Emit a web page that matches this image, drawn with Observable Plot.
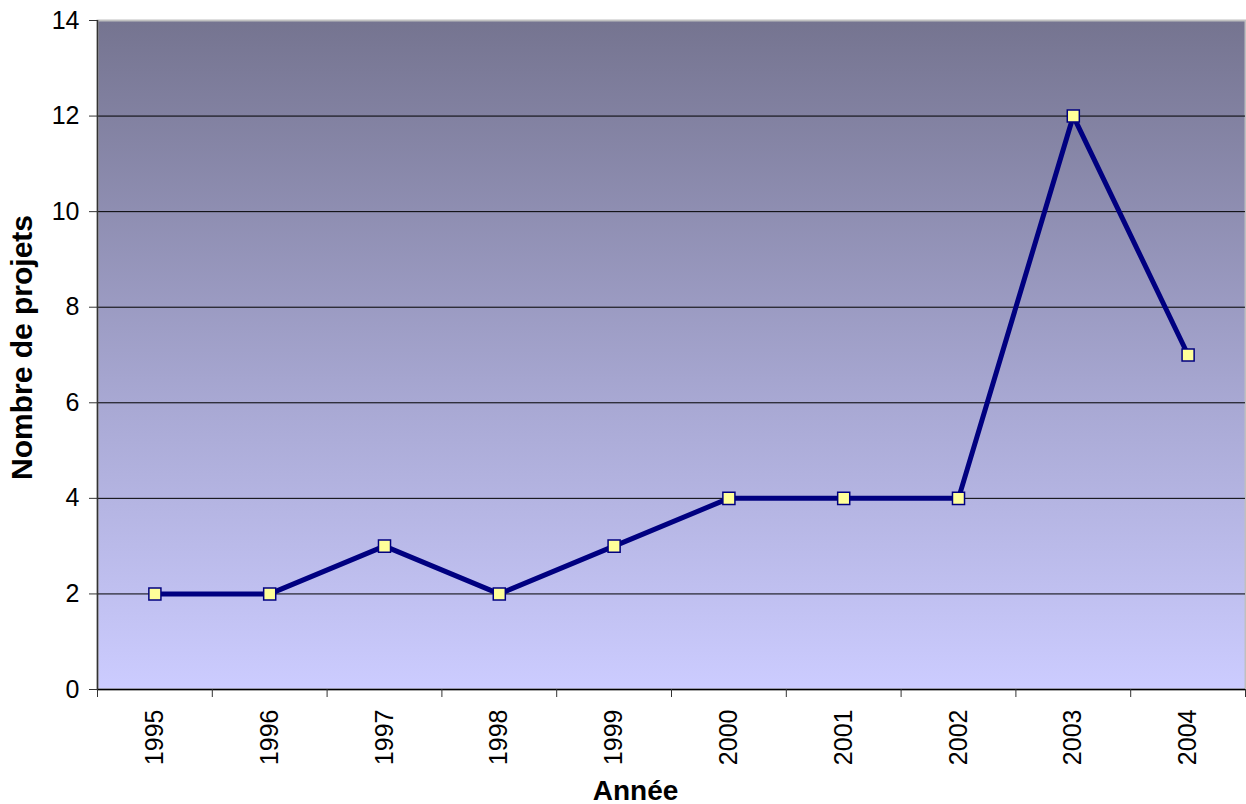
<!DOCTYPE html>
<html>
<head>
<meta charset="utf-8">
<script src="https://cdn.jsdelivr.net/npm/d3@7"></script>
<script src="https://cdn.jsdelivr.net/npm/@observablehq/plot@0.6"></script>
<style>
  html, body { margin: 0; padding: 0; background: #fff; }
  #chart svg { display: block; }
  #chart svg g[aria-label="y-axis tick label"] text { font-size: 25px; }
  #chart svg g[aria-label="x-axis tick label"] text { font-size: 25px; }
  #chart svg g.axis-title-x text { font-size: 28px; font-weight: bold; }
  #chart svg g.axis-title-y text { font-size: 30px; font-weight: bold; }
</style>
</head>
<body>
<div id="chart"></div>
<script>
const years = [1995, 1996, 1997, 1998, 1999, 2000, 2001, 2002, 2003, 2004];
const projets = [2, 2, 3, 2, 3, 4, 4, 4, 12, 7];
const yTicks = [0, 2, 4, 6, 8, 10, 12, 14];
const gridValues = [2, 4, 6, 8, 10, 12];
const boundaries = [1994.5, 1995.5, 1996.5, 1997.5, 1998.5, 1999.5, 2000.5, 2001.5, 2002.5, 2003.5, 2004.5];
const yLabel = "Nombre de projets";
const xLabel = "Année";

const data = years.map((y, i) => ({annee: y, n: projets[i]}));

const font = "'Liberation Sans', Arial, sans-serif";

const plot = Plot.plot({
  width: 1246,
  height: 804,
  marginLeft: 97,
  marginRight: 1,
  marginTop: 20,
  marginBottom: 115,
  style: {fontFamily: font, fontSize: "25px", color: "#000", background: "#fff", overflow: "visible"},
  x: {type: "linear", domain: [1994.5, 2004.5]},
  y: {domain: [0, 14]},
  marks: [
    Plot.frame({fill: "url(#bgGrad)", stroke: "#c0c0c0", strokeWidth: 2}),
    Plot.ruleY(gridValues, {stroke: "#000", strokeWidth: 1}),
    Plot.ruleY([0], {stroke: "#000", strokeWidth: 1.5}),
    Plot.ruleX([1994.5], {stroke: "#333", strokeWidth: 1.5}),
    Plot.axisY({ticks: yTicks, tickSize: 8, tickPadding: 10, fontSize: 25, label: null, stroke: "#333"}),
    Plot.axisX({ticks: boundaries, tickSize: 8, tickFormat: () => "", label: null, stroke: "#333"}),
    Plot.axisX({ticks: years, tickSize: 0, tickPadding: 20, tickRotate: -90, tickFormat: d => String(d), fontSize: 25, label: null}),
    Plot.line(data, {x: "annee", y: "n", stroke: "#000080", strokeWidth: 5, strokeLinejoin: "miter"}),
    Plot.dot(data, {x: "annee", y: "n", symbol: "square", r: 6.8, fill: "#ffff99", stroke: "#000080", strokeWidth: 1.5}),
    Plot.text([yLabel], {frameAnchor: "left", textAnchor: "middle", lineAnchor: "middle", rotate: -90, dx: -75, dy: -7.5, text: d => d, className: "axis-title-y"}),
    Plot.text([xLabel], {frameAnchor: "bottom", textAnchor: "middle", lineAnchor: "bottom", dx: -36, dy: 110, text: d => d, className: "axis-title-x"})
  ]
});

const svg = d3.select(plot);
const defs = svg.insert("defs", ":first-child");
const grad = defs.append("linearGradient")
  .attr("id", "bgGrad")
  .attr("x1", 0).attr("y1", 0).attr("x2", 0).attr("y2", 1);
grad.append("stop").attr("offset", "0%").attr("stop-color", "#757490");
grad.append("stop").attr("offset", "57%").attr("stop-color", "#a8a8d3");
grad.append("stop").attr("offset", "100%").attr("stop-color", "#ccccff");

document.getElementById("chart").appendChild(plot);
</script>
</body>
</html>
